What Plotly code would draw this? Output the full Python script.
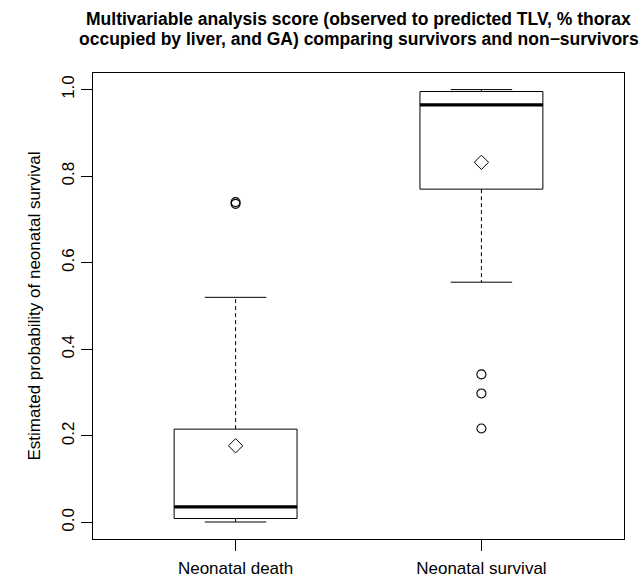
import plotly.graph_objects as go

# ---- data ----
groups = ["Neonatal death", "Neonatal survival"]
positions = [1, 2]
lower_whisker = [0.001, 0.555]
q1 = [0.009, 0.770]
median = [0.036, 0.9645]
q3 = [0.2155, 0.9955]
upper_whisker = [0.520, 1.000]
means = [0.177, 0.832]
outliers = [[0.740, 0.736], [0.342, 0.298, 0.217]]
y_ticks = [0.0, 0.2, 0.4, 0.6, 0.8, 1.0]

title_lines = ["Multivariable analysis score (observed to predicted TLV, % thorax",
               "occupied by liver, and GA) comparing survivors and non\u2212survivors"]
y_title = "Estimated probability of neonatal survival"

FONT = "Liberation Sans, Arial, Helvetica, sans-serif"
half_box = 0.25
half_cap = 0.125

fig = go.Figure()
for i, xc in enumerate(positions):
    # box rectangle
    fig.add_trace(go.Scatter(
        x=[xc - half_box, xc + half_box, xc + half_box, xc - half_box, xc - half_box],
        y=[q1[i], q1[i], q3[i], q3[i], q1[i]],
        mode="lines", line=dict(color="black", width=1), hoverinfo="skip"))
    # median
    fig.add_trace(go.Scatter(
        x=[xc - half_box, xc + half_box], y=[median[i], median[i]],
        mode="lines", line=dict(color="black", width=3.2), hoverinfo="skip"))
    # whiskers (dashed)
    fig.add_trace(go.Scatter(
        x=[xc, xc, None, xc, xc],
        y=[q3[i], upper_whisker[i], None, q1[i], lower_whisker[i]],
        mode="lines", line=dict(color="black", width=1, dash="4px,3px"), hoverinfo="skip"))
    # caps
    fig.add_trace(go.Scatter(
        x=[xc - half_cap, xc + half_cap, None, xc - half_cap, xc + half_cap],
        y=[upper_whisker[i], upper_whisker[i], None, lower_whisker[i], lower_whisker[i]],
        mode="lines", line=dict(color="black", width=1), hoverinfo="skip"))
    # outliers
    fig.add_trace(go.Scatter(
        x=[xc] * len(outliers[i]), y=outliers[i], mode="markers",
        marker=dict(symbol="circle-open", size=9, color="black", line=dict(width=1.1)),
        hoverinfo="skip"))
    # mean
    fig.add_trace(go.Scatter(
        x=[xc], y=[means[i]], mode="markers",
        marker=dict(symbol="diamond-open", size=11, color="black", line=dict(width=1)),
        hoverinfo="skip"))

# title as two bold lines
plot_top, plot_bottom = 73, 539
for text, ypx in zip(title_lines, [19.5, 39.5]):
    fig.add_annotation(
        text=f"<b>{text}</b>", xref="paper", x=0.5, xanchor="center",
        yref="paper", y=(plot_bottom - ypx) / (plot_bottom - plot_top), yanchor="middle",
        showarrow=False, font=dict(family=FONT, size=17.5, color="black"))

fig.update_layout(
    width=644, height=581,
    margin=dict(l=93, r=20, t=plot_top, b=581 - plot_bottom, pad=0, autoexpand=False),
    paper_bgcolor="white", plot_bgcolor="white",
    showlegend=False,
    font=dict(family=FONT, size=17, color="black"),
    xaxis=dict(range=[0.42, 2.58], tickmode="array", tickvals=positions, ticktext=groups,
               showline=True, mirror=True, linecolor="black", linewidth=1,
               ticks="outside", ticklen=11, tickcolor="black", tickwidth=1,
               ticklabelstandoff=3, automargin=False,
               showgrid=False, zeroline=False, tickfont=dict(size=17)),
    yaxis=dict(range=[-0.0383, 1.0383], tickmode="array", tickvals=y_ticks,
               ticktext=[f"{v:.1f}" for v in y_ticks], tickangle=-90,
               showline=True, mirror=True, linecolor="black", linewidth=1,
               ticks="outside", ticklen=11, tickcolor="black", tickwidth=1,
               showgrid=False, zeroline=False, tickfont=dict(size=17), automargin=False,
               title=dict(text=y_title, standoff=14, font=dict(size=17))),
)

fig.write_html("out.html")
